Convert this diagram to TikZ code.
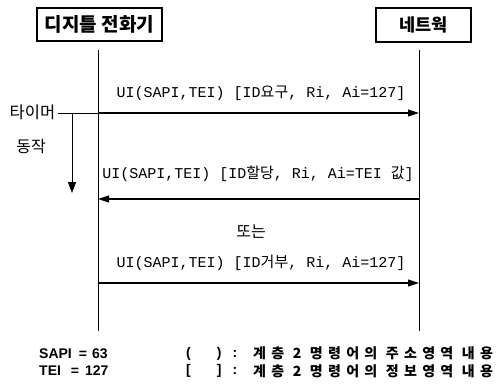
\documentclass[tikz,border=0pt]{standalone}
\usepackage{fontspec}
\setmainfont{Liberation Sans}
\newfontfamily\kr{Noto Sans CJK KR}
\newfontfamily\krsp[LetterSpace=38]{Noto Sans CJK KR}
\newfontfamily\mono{Liberation Mono}
\usetikzlibrary{arrows.meta}
\begin{document}
\begin{tikzpicture}[x=1pt,y=-1pt,
  entity/.style={draw, line width=2.6pt, inner sep=0pt},
  life/.style={line width=0.9pt},
  msg/.style={line width=1.1pt, -{Triangle[length=11pt,width=7pt]}},
  lbl/.style={inner sep=0pt, font=\mono\fontsize{15}{15}\selectfont},
  krtxt/.style={inner sep=0pt, font=\kr\fontsize{14}{14}\selectfont},
  note/.style={inner sep=0pt, anchor=west, font=\bfseries\fontsize{14}{14}\selectfont},
  krnote/.style={inner sep=0pt, anchor=west, font=\krsp\bfseries\fontsize{14}{14}\selectfont}]
\useasboundingbox (0,0) rectangle (502,383);
% entities
\node[entity, minimum width=125pt, minimum height=33pt, font=\kr\bfseries\fontsize{19}{19}\selectfont] (phone) at (99.5,24.5) {디지틀 전화기};
\node[entity, minimum width=95pt, minimum height=34pt, font=\kr\bfseries\fontsize{17.5}{17.5}\selectfont] (net) at (423.5,25) {네트웍};
% lifelines
\coordinate (Ltop) at (98,50);  \coordinate (Lbot) at (98,331);
\coordinate (Rtop) at (419,50); \coordinate (Rbot) at (419,331);
\draw[life] (Ltop) -- (Lbot);
\draw[life] (Rtop) -- (Rbot);
% messages
\coordinate (L1) at (98,113); \coordinate (R1) at (419,113);
\coordinate (L2) at (98,199); \coordinate (R2) at (419,199);
\coordinate (L3) at (98,283); \coordinate (R3) at (419,283);
\draw[msg] (L1) -- (R1);
\draw[msg] (R2) -- (L2);
\draw[msg] (L3) -- (R3);
\node[lbl] (m1) at (261,93) {UI(SAPI,TEI) [ID{\kr 요구}, Ri, Ai=127]};
\node[lbl] (m2) at (258,174) {UI(SAPI,TEI) [ID{\kr 할당}, Ri, Ai=TEI {\kr 값}]};
\node[krtxt, font=\kr\fontsize{16}{16}\selectfont] (or) at (251,232) {또는};
\node[lbl] (m3) at (261,263) {UI(SAPI,TEI) [ID{\kr 거부}, Ri, Ai=127]};
% timer
\node[krtxt, font=\kr\fontsize{16.5}{16.5}\selectfont] (timer) at (32.5,112) {타이머};
\node[krtxt, font=\kr\fontsize{16}{16}\selectfont] (act) at (31,147) {동작};
\coordinate (T0) at (58,113);
\coordinate (Ta) at (72,113);
\coordinate (Tb) at (72,193);
\draw[line width=0.8pt] (T0) -- (L1);
\draw[line width=1pt, -{Triangle[length=11pt,width=8pt]}] (Ta) -- (Tb);
% notes
\node[note] (sapi) at (39,353.5) {SAPI\hspace{7pt}=\hspace{5pt}63};
\node[note] (tei) at (39,371) {TEI\hspace{10pt}=\hspace{6pt}127};
\node[note] (p1) at (186,353.5) {(\hspace{26pt})\hspace{11pt}:};
\node[note] (p2) at (186,371) {[\hspace{26pt}]\hspace{11pt}:};
\node[krnote] (n1) at (253,353.5) {계층 2 명령어의 주소영역 내용};
\node[krnote] (n2) at (253,371) {계층 2 명령어의 정보영역 내용};
\end{tikzpicture}
\end{document}
